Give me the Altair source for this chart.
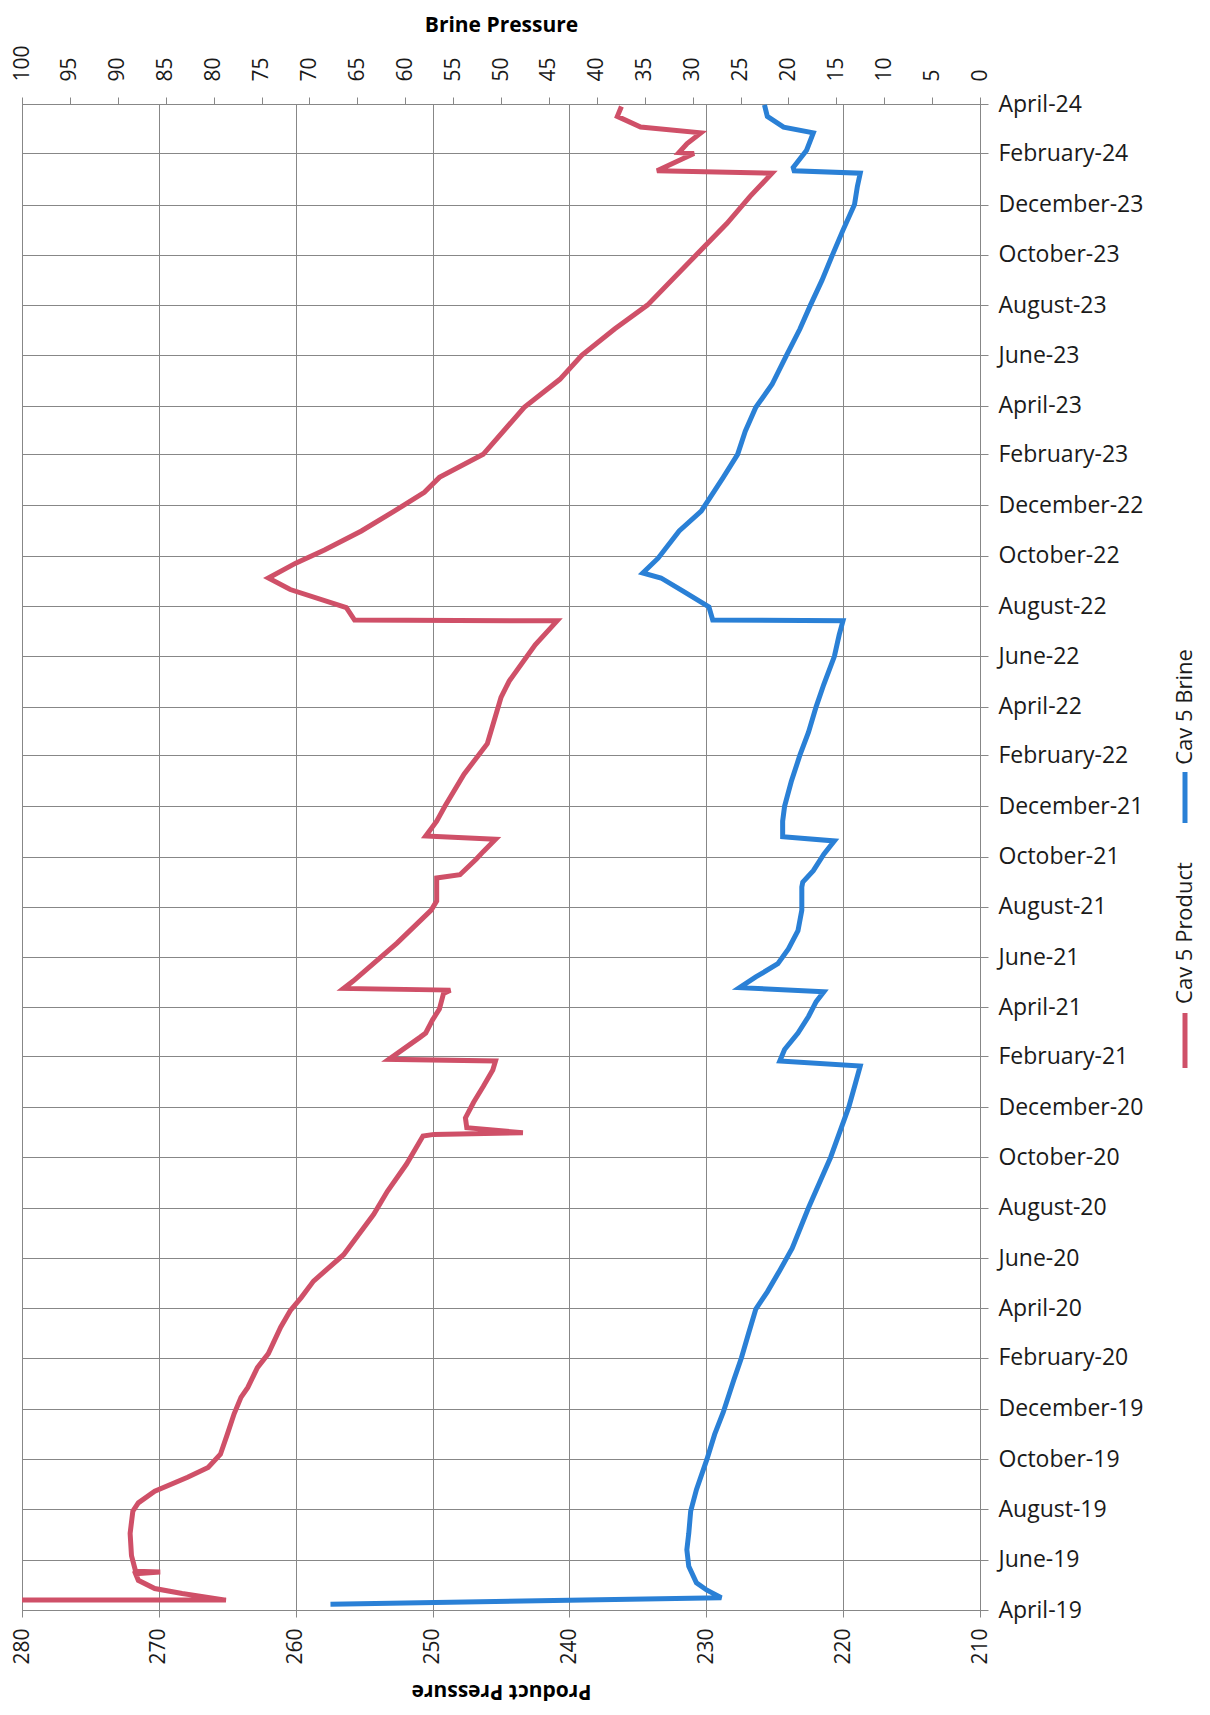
import altair as alt
import pandas as pd

# ---------------- data ----------------
product_dates = [
    "2019-04-13", "2019-04-13", "2019-04-21", "2019-04-27", "2019-05-07", "2019-05-15",
    "2019-05-17", "2019-05-18", "2019-06-06", "2019-07-03", "2019-07-30", "2019-08-09",
    "2019-08-23", "2019-09-09", "2019-09-21", "2019-10-07", "2019-10-31", "2019-11-25",
    "2019-12-15", "2019-12-27", "2020-01-20", "2020-02-06", "2020-03-09", "2020-03-29",
    "2020-04-14", "2020-05-04", "2020-06-05", "2020-07-24", "2020-08-21", "2020-09-23",
    "2020-10-27", "2020-10-29", "2020-10-31", "2020-11-06", "2020-11-18", "2020-12-07",
    "2020-12-26", "2021-01-15", "2021-01-26", "2021-01-28", "2021-02-24", "2021-03-01",
    "2021-03-17", "2021-03-30", "2021-04-18", "2021-04-22", "2021-04-24", "2021-05-03",
    "2021-06-18", "2021-07-28", "2021-08-08", "2021-09-05", "2021-09-09", "2021-09-28",
    "2021-10-07", "2021-10-22", "2021-10-26", "2021-11-13", "2021-12-01", "2022-01-09",
    "2022-02-15", "2022-04-12", "2022-05-02", "2022-06-15", "2022-07-14", "2022-07-15",
    "2022-07-30", "2022-08-21", "2022-09-04", "2022-09-22", "2022-10-08", "2022-10-31",
    "2022-11-24", "2022-12-17", "2023-01-04", "2023-02-01", "2023-03-30", "2023-05-03",
    "2023-06-01", "2023-07-03", "2023-08-01", "2023-09-28", "2023-11-08", "2023-12-11",
    "2024-01-08", "2024-01-11", "2024-02-01", "2024-02-02", "2024-02-13", "2024-02-26",
    "2024-03-04", "2024-03-17", "2024-03-29",
]
product_values = [
    280.0, 265.1, 268.3, 270.3, 271.5, 271.7,
    269.9, 271.7, 272.0, 272.1, 271.9, 271.5,
    270.3, 267.9, 266.4, 265.5, 265.0, 264.5,
    264.0, 263.5, 262.8, 262.0, 261.1, 260.4,
    259.6, 258.7, 256.5, 254.3, 253.3, 251.9,
    250.7, 249.9, 243.4, 247.5, 247.6, 247.0,
    246.3, 245.6, 245.4, 253.2, 250.9, 250.5,
    250.0, 249.5, 249.2, 248.7, 256.5, 255.8,
    252.6, 250.1, 249.7, 249.7, 248.0, 246.8,
    246.3, 245.4, 250.5, 249.7, 249.1, 247.7,
    246.0, 245.0, 244.4, 242.5, 240.9, 255.7,
    256.3, 260.4, 262.0, 260.0, 257.9, 255.2,
    252.8, 250.6, 249.5, 246.3, 243.3, 240.7,
    239.1, 236.7, 234.3, 230.9, 228.5, 226.8,
    225.2, 233.6, 230.9, 232.0, 231.4, 230.4,
    234.8, 236.5, 236.2,
]

brine_dates = [
    "2019-04-08", "2019-04-16", "2019-04-25", "2019-05-04", "2019-05-24", "2019-06-13",
    "2019-07-03", "2019-07-30", "2019-08-25", "2019-10-01", "2019-10-31", "2019-11-27",
    "2020-01-05", "2020-02-01", "2020-02-29", "2020-03-31", "2020-04-21", "2020-05-17",
    "2020-06-13", "2020-08-01", "2020-10-01", "2020-12-01", "2020-12-30", "2021-01-20",
    "2021-01-26", "2021-02-09", "2021-03-01", "2021-03-21", "2021-04-08", "2021-04-20",
    "2021-04-25", "2021-05-08", "2021-05-24", "2021-06-11", "2021-07-03", "2021-07-28",
    "2021-08-25", "2021-08-31", "2021-09-14", "2021-10-04", "2021-10-20", "2021-10-25",
    "2021-11-13", "2021-12-01", "2021-12-31", "2022-02-01", "2022-03-01", "2022-04-01",
    "2022-04-28", "2022-06-01", "2022-06-27", "2022-07-14", "2022-07-15", "2022-07-31",
    "2022-08-19", "2022-09-04", "2022-09-10", "2022-09-28", "2022-10-31", "2022-11-24",
    "2023-01-04", "2023-02-01", "2023-03-01", "2023-03-30", "2023-04-27", "2023-06-01",
    "2023-07-03", "2023-08-01", "2023-08-31", "2023-10-01", "2023-10-31", "2023-12-01",
    "2023-12-23", "2024-01-08", "2024-01-11", "2024-01-15", "2024-02-05", "2024-02-26",
    "2024-03-04", "2024-03-17", "2024-03-31",
]
brine_values = [
    67.8, 27.0, 28.5, 29.6, 30.4, 30.6,
    30.4, 30.2, 29.6, 28.5, 27.7, 26.8,
    25.7, 24.9, 24.2, 23.4, 22.2, 20.9,
    19.6, 17.9, 15.6, 13.7, 13.0, 12.5,
    20.9, 20.4, 19.0, 17.9, 17.1, 16.3,
    25.1, 23.4, 21.1, 20.0, 19.0, 18.6,
    18.6, 18.5, 17.4, 16.3, 15.2, 20.6,
    20.6, 20.4, 19.7, 18.8, 17.9, 17.1,
    16.3, 15.2, 14.7, 14.3, 27.9, 28.3,
    31.0, 33.3, 35.2, 33.6, 31.4, 29.1,
    26.8, 25.3, 24.5, 23.4, 21.7, 20.2,
    18.8, 17.7, 16.5, 15.4, 14.3, 13.1,
    12.8, 12.5, 19.4, 19.5, 18.1, 17.4,
    20.5, 22.2, 22.5,
]

date_ticks = [
    (2019, 4), (2019, 6), (2019, 8), (2019, 10), (2019, 12),
    (2020, 2), (2020, 4), (2020, 6), (2020, 8), (2020, 10), (2020, 12),
    (2021, 2), (2021, 4), (2021, 6), (2021, 8), (2021, 10), (2021, 12),
    (2022, 2), (2022, 4), (2022, 6), (2022, 8), (2022, 10), (2022, 12),
    (2023, 2), (2023, 4), (2023, 6), (2023, 8), (2023, 10), (2023, 12),
    (2024, 2), (2024, 4),
]
product_ticks = [210, 220, 230, 240, 250, 260, 270, 280]
brine_ticks = [0, 5, 10, 15, 20, 25, 30, 35, 40, 45, 50, 55, 60, 65, 70, 75, 80, 85, 90, 95, 100]

series_names = ["Cav 5 Product", "Cav 5 Brine"]
series_colors = ["#cf5068", "#2a80d6"]

# ---------------- chart ----------------
FONT = "Open Sans"
GRID = "#878787"
W, H = 958, 1506
LW = 5
LEG_X = 1163

df_p = pd.DataFrame({"d": product_dates, "v": product_values, "i": range(len(product_values))})
df_b = pd.DataFrame({"d": brine_dates, "v": brine_values, "i": range(len(brine_values))})

tick_dt = [alt.DateTime(year=y, month=m, date=1, utc=True) for y, m in date_ticks]
y_scale = alt.Scale(type="utc", domain=[tick_dt[0], tick_dt[-1]], nice=False)
y_axis = alt.Axis(
    orient="right", values=tick_dt, title=None,
    labelExpr="utcFormat(datum.value, '%B') + '-' + utcFormat(datum.value, '%y')",
    labelAngle=0, labelAlign="left", labelBaseline="middle", labelFontSize=23,
    labelPadding=10, labelLimit=400, tickSize=8, grid=True, gridColor=GRID, domainColor=GRID,
    tickColor=GRID, labelColor="#1a1a1a", labelFont=FONT,
)

product = alt.Chart(df_p).mark_line(color=series_colors[0], strokeWidth=LW, clip=True).encode(
    x=alt.X(
        "v:Q",
        scale=alt.Scale(domain=[210, 280], reverse=True, nice=False, zero=False),
        axis=alt.Axis(
            orient="bottom", values=product_ticks, title="Product Pressure",
            titleAngle=180, titleFontWeight="bold", titleFontSize=21, titleFont=FONT,
            titleX=W / 2, titleY=80, titleBaseline="middle", titleAlign="center",
            labelAngle=270, labelAlign="right", labelBaseline="middle",
            labelFontSize=21, labelFont=FONT, labelPadding=11, tickSize=7,
            grid=True, gridColor=GRID, domain=False, tickColor=GRID, labelColor="#1a1a1a",
        ),
    ),
    y=alt.Y("d:T", scale=y_scale, axis=y_axis),
    order=alt.Order("i:Q"),
)

brine = alt.Chart(df_b).mark_line(color=series_colors[1], strokeWidth=LW, clip=True).encode(
    x=alt.X(
        "v:Q",
        scale=alt.Scale(domain=[0, 100], reverse=True, nice=False, zero=False),
        axis=alt.Axis(
            orient="top", values=brine_ticks, title="Brine Pressure",
            titleFontWeight="bold", titleFontSize=21, titleFont=FONT,
            titleX=W / 2, titleY=-73, titleBaseline="alphabetic", titleAlign="center",
            labelAngle=270, labelAlign="left", labelBaseline="middle",
            labelFontSize=21, labelFont=FONT, labelPadding=16, tickSize=7,
            grid=False, domain=True, domainColor=GRID, tickColor=GRID, labelColor="#1a1a1a",
        ),
    ),
    y=alt.Y("d:T", scale=y_scale, axis=y_axis),
    order=alt.Order("i:Q"),
)

# legend (rotated, at right side)
leg_df = pd.DataFrame({"name": series_names, "color": series_colors})
leg_text_b = alt.Chart(leg_df.iloc[[1]]).mark_text(
    angle=270, font=FONT, fontSize=22, color="#1a1a1a", align="center", baseline="middle"
).encode(text="name:N", x=alt.value(LEG_X), y=alt.value(603))
leg_text_p = alt.Chart(leg_df.iloc[[0]]).mark_text(
    angle=270, font=FONT, fontSize=22, color="#1a1a1a", align="center", baseline="middle"
).encode(text="name:N", x=alt.value(LEG_X), y=alt.value(829))
leg_line_b = alt.Chart(leg_df.iloc[[1]]).mark_rule(color=series_colors[1], strokeWidth=LW).encode(
    x=alt.value(LEG_X), y=alt.value(668), y2=alt.value(719)
)
leg_line_p = alt.Chart(leg_df.iloc[[0]]).mark_rule(color=series_colors[0], strokeWidth=LW).encode(
    x=alt.value(LEG_X), y=alt.value(909), y2=alt.value(964)
)

chart = (
    alt.layer(product, brine, leg_text_b, leg_text_p, leg_line_b, leg_line_p)
    .resolve_scale(x="independent")
    .properties(
        width=W, height=H,
        autosize=alt.AutoSizeParams(type="none"),
        padding={"left": 14, "top": 96, "right": 220, "bottom": 100},
        background="white",
    )
    .configure_view(stroke=GRID, strokeWidth=1)
)

chart.save("out.html", embed_options={"renderer": "svg", "actions": False})
